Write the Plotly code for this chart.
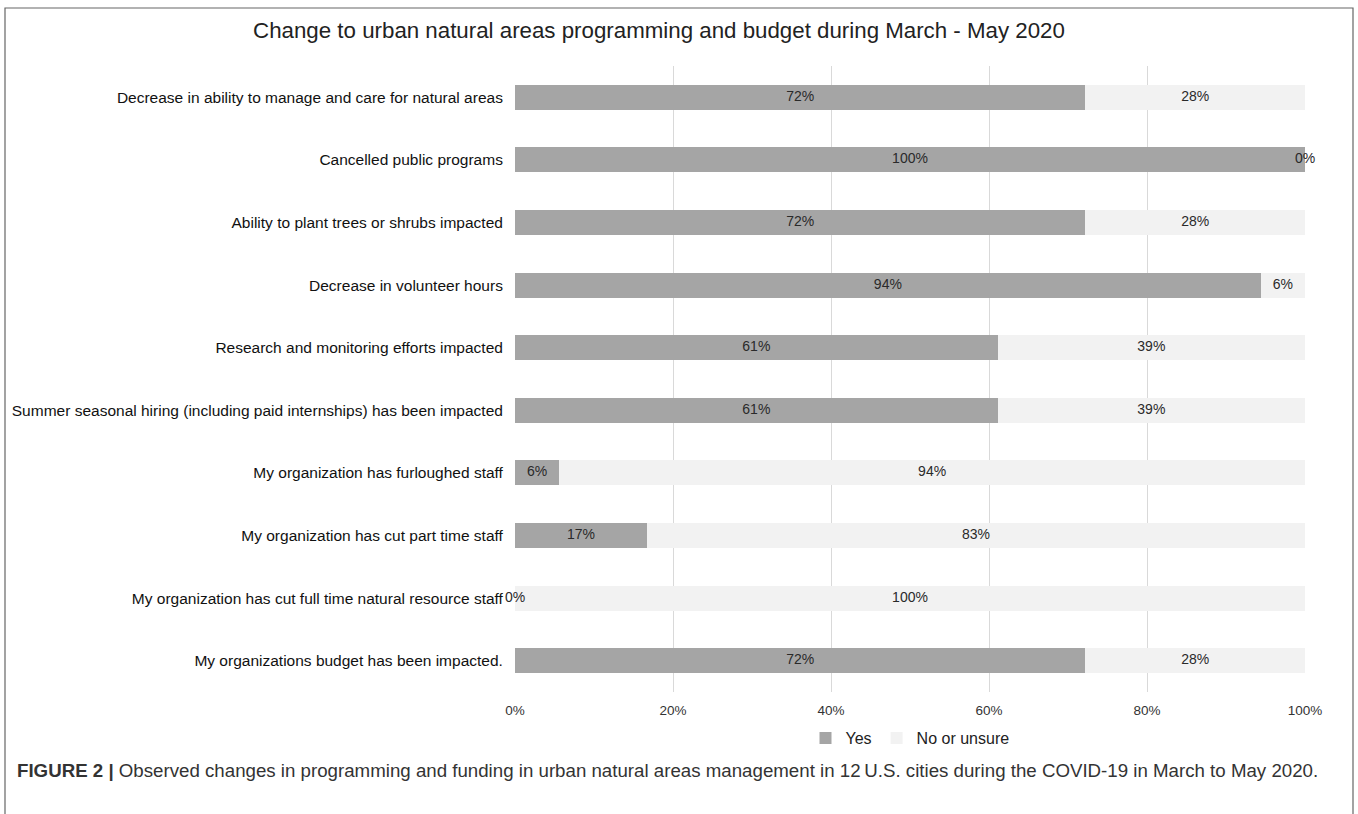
import plotly.graph_objects as go

categories = [
    "Decrease in ability to manage and care for natural areas",
    "Cancelled public programs",
    "Ability to plant trees or shrubs impacted",
    "Decrease in volunteer hours",
    "Research and monitoring efforts impacted",
    "Summer seasonal hiring (including paid internships) has been impacted",
    "My organization has furloughed staff",
    "My organization has cut part time staff",
    "My organization has cut full time natural resource staff",
    "My organizations budget has been impacted.",
]
yes_vals = [72.2, 100.0, 72.2, 94.4, 61.1, 61.1, 5.6, 16.7, 0.0, 72.2]
no_vals = [27.8, 0.0, 27.8, 5.6, 38.9, 38.9, 94.4, 83.3, 100.0, 27.8]
x_ticks = [0, 20, 40, 60, 80, 100]
x_tick_labels = ["0%", "20%", "40%", "60%", "80%", "100%"]

title_text = "Change to urban natural areas programming and budget during March - May 2020"
caption_text = ("<b>FIGURE 2 |</b> Observed changes in programming and funding in urban natural areas "
                "management in 12\u2009U.S. cities during the COVID-19 in March to May 2020.")

YES_COLOR = "#a5a5a5"
NO_COLOR = "#f2f2f2"
FONT = "Liberation Sans, Arial, sans-serif"

W, H = 1358, 814
# plot area in page pixels (body margin removed by post_script)
PL, PR, PT, PB = 515, 1305, 66, 692
L, T, R, B = PL, PT, W - PR, H - PB
pw, ph = PR - PL, PB - PT

def px_x(x):  # page px -> paper x
    return (x - PL) / pw

def px_y(y):  # page px -> paper y
    return (PB - y) / ph

fig = go.Figure()
fig.add_trace(go.Bar(
    y=categories, x=yes_vals, orientation="h", name="Yes",
    marker=dict(color=YES_COLOR, line=dict(width=0)),
    hoverinfo="skip",
))
fig.add_trace(go.Bar(
    y=categories, x=no_vals, orientation="h", name="No or unsure",
    marker=dict(color=NO_COLOR, line=dict(width=0)),
    hoverinfo="skip",
))

yes_pos = [v / 2 for v in yes_vals]
no_pos = [y + n / 2 for y, n in zip(yes_vals, no_vals)]
for pos, vals in ((yes_pos, yes_vals), (no_pos, no_vals)):
    fig.add_trace(go.Scatter(
        y=categories, x=pos, mode="text",
        text=[f"{round(v)}%" for v in vals],
        textfont=dict(family=FONT, size=14, color="#2a2a2a"),
        showlegend=False, hoverinfo="skip", cliponaxis=False,
    ))

fig.update_layout(
    width=W, height=H,
    margin=dict(l=L, r=R, t=T, b=B),
    barmode="stack",
    bargap=0.6,
    paper_bgcolor="white",
    plot_bgcolor="white",
    font=dict(family=FONT, size=13, color="#222"),
    showlegend=True,
    legend=dict(
        orientation="h", x=0.5, xanchor="center", y=px_y(738), yanchor="middle",
        font=dict(family=FONT, size=16, color="#222"),
        traceorder="normal",
    ),
    title=dict(
        text=title_text, x=659 / W, xanchor="center", y=1 - 30 / H, yanchor="middle",
        xref="container", yref="container",
        font=dict(family=FONT, size=22.3, color="#222"),
    ),
    xaxis=dict(
        range=[0, 100], tickvals=x_ticks, ticktext=x_tick_labels,
        showgrid=True, gridcolor="#d9d9d9", gridwidth=1, zeroline=False,
        ticks="outside", ticklen=6, tickcolor="rgba(0,0,0,0)",
        tickfont=dict(family=FONT, size=13.5, color="#333"),
        showline=False, fixedrange=True,
    ),
    yaxis=dict(
        categoryorder="array", categoryarray=categories, autorange="reversed",
        showgrid=False, ticks="outside", ticklen=8, tickcolor="rgba(0,0,0,0)",
        tickfont=dict(family=FONT, size=15.5, color="#111"),
        showline=False, fixedrange=True,
    ),
    shapes=[dict(
        type="rect", xref="paper", yref="paper",
        x0=px_x(5), x1=px_x(1353), y0=px_y(840), y1=px_y(8),
        line=dict(color="#666", width=1.2), fillcolor="rgba(0,0,0,0)", layer="below",
    )],
    annotations=[dict(
        text=caption_text, xref="paper", yref="paper",
        x=px_x(15), y=px_y(770), xanchor="left", yanchor="middle",
        showarrow=False, font=dict(family=FONT, size=18.7, color="#333"),
    )],
)

fig.write_html("out.html", config={"displayModeBar": False},
               post_script="document.body.style.margin='0';")
